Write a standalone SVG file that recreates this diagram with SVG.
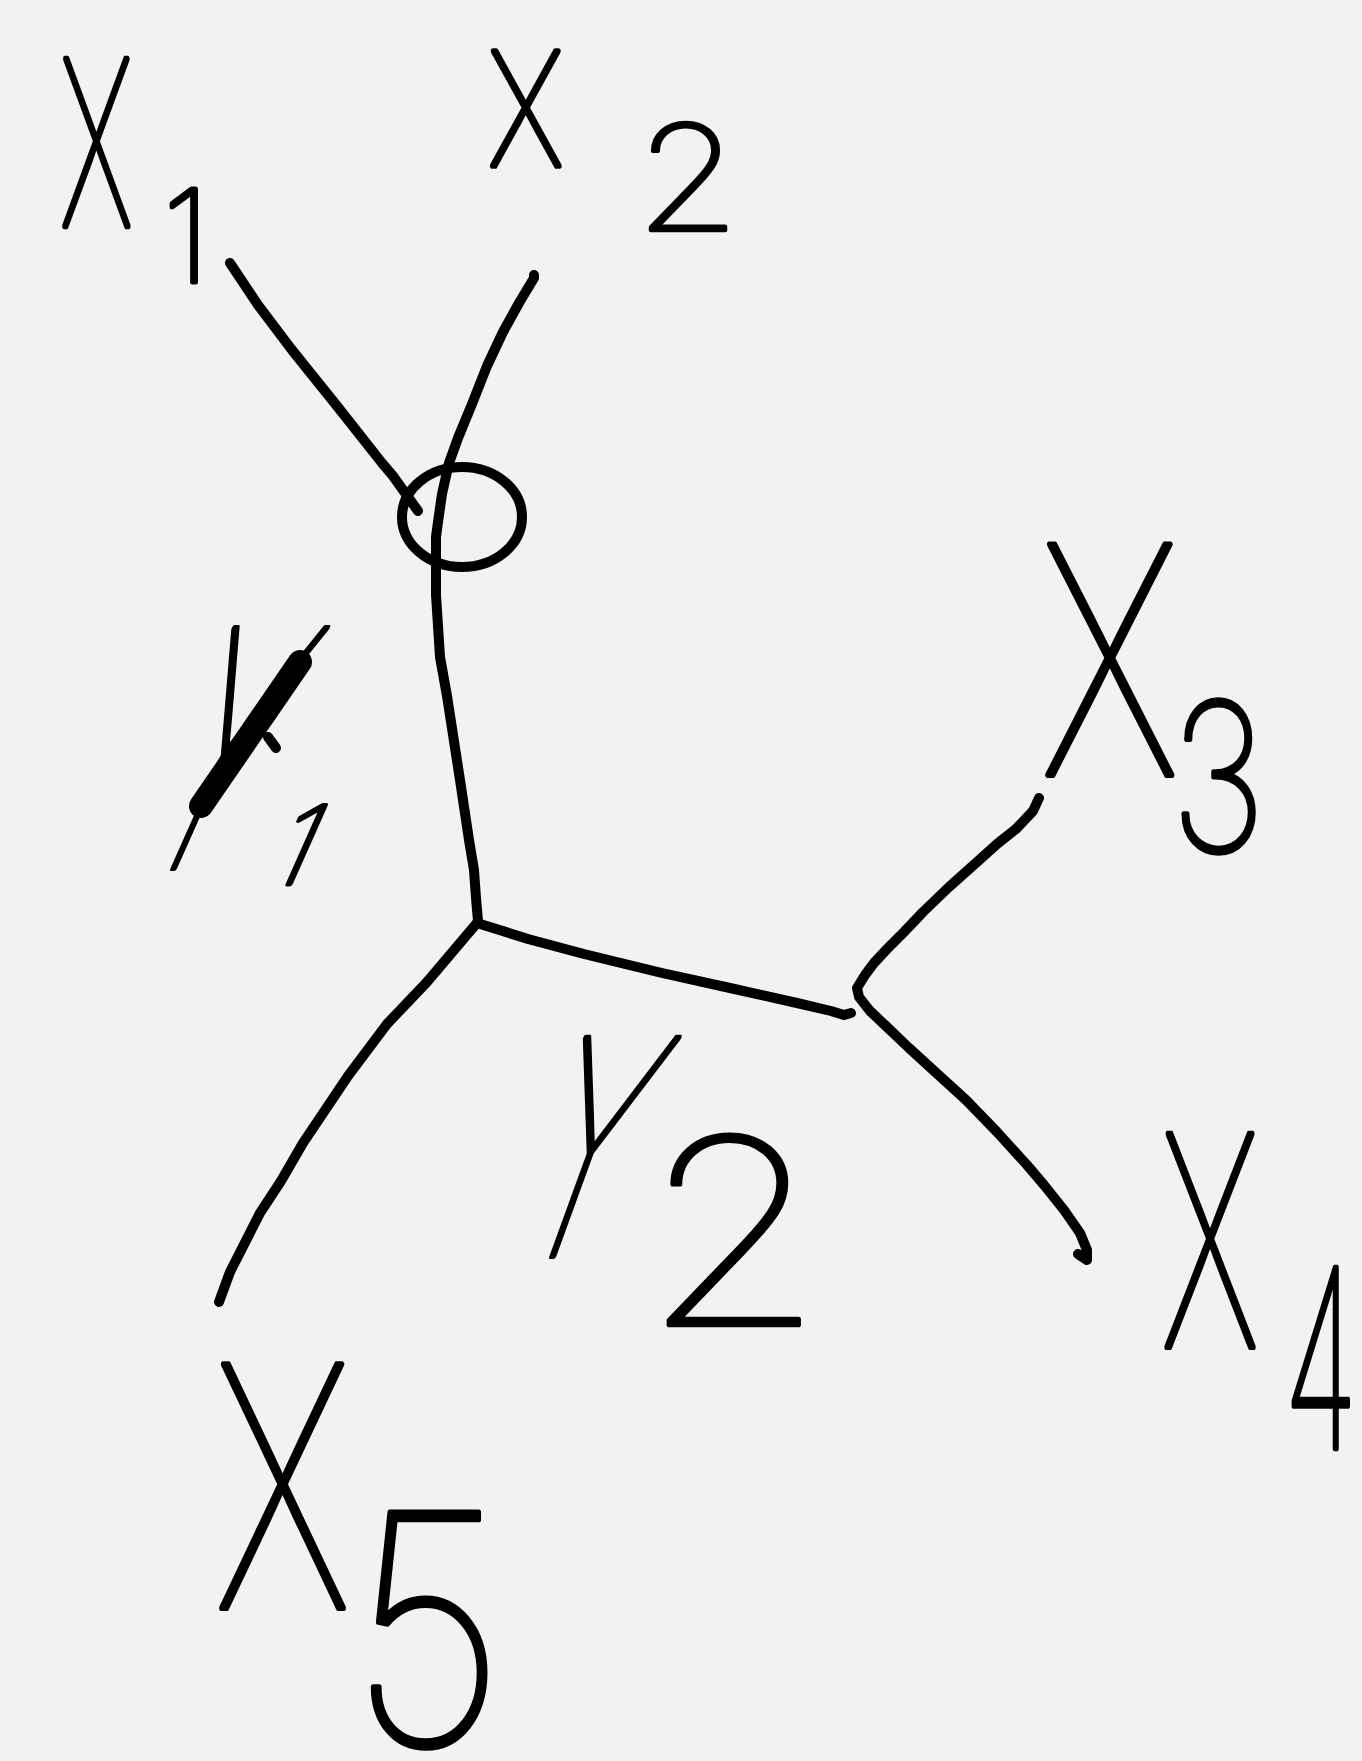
<svg xmlns="http://www.w3.org/2000/svg" width="1362" height="1761" viewBox="0 0 1362 1761">
<style>
.ln{fill:none;stroke:#000;stroke-width:10;stroke-linecap:round;stroke-linejoin:round}
.t{font-family:Inter,Lato,Roboto,"DejaVu Sans",sans-serif;font-weight:100;fill:#000;stroke:#000;stroke-width:5;stroke-linejoin:round;stroke-linecap:round;vector-effect:non-scaling-stroke}
</style>
<rect width="1362" height="1761" fill="#f2f2f2"/>
<g id="connectors">
<path class="ln" d="M230,263 L258,305 L292,350 L337,406 L382,463 L393,476 L418,511"/>
<path class="ln" d="M534,275 L534,278 L519,303 L503,332 L487,366 L472,404 L458,438 L449,463 L442,494 L438,522 L436,537 L436,595 L440,657 L447,696 L460,780 L469,840 L474,870 L476,898 L478,921"/>
<path class="ln" d="M477,923 L460,943 L427,982 L387,1024 L348,1076 L303,1143 L281,1181 L260,1213 L230,1272 L219,1302"/>
<path class="ln" d="M477,923 L528,939 L584,954 L662,973 L730,988 L797,1003 L831,1011 L844,1015 L851,1013"/>
<path class="ln" d="M1039,798 L1033,811 L1016,829 L997,844 L977,862 L949,887 L923,912 L904,932 L887,949 L874,963 L865,975 L857,988 L859,997 L870,1011 L887,1027 L909,1048 L932,1069 L966,1100 L997,1132 L1027,1165 L1044,1185 L1064,1210 L1080,1233 L1087,1250 L1087,1260 L1078,1254"/>
</g>
<g id="vertex-circle">
<ellipse class="ln" cx="462" cy="517" rx="60" ry="50"/>
</g>
<g id="X1"><text class="t" transform="translate(60,226) scale(0.51,1)" font-size="230">X</text><text class="t" transform="translate(163,282)" font-size="128">1</text></g>
<g id="X2"><text class="t" transform="translate(636,230) scale(1.15,1)" font-size="145">2</text><text class="t" transform="translate(488,166) scale(0.77,1)" font-size="158">X</text></g>
<g id="X3"><text class="t" transform="translate(1040,775) scale(0.71,1)" font-size="317">X</text><text class="t" transform="translate(1171,851) scale(0.79,1)" font-size="205">3</text></g>
<g id="X4"><text class="t" transform="translate(1161,1347) scale(0.54,1)" font-size="293">X</text><text class="t" transform="translate(1284,1448) scale(0.5,1)" font-size="247">4</text></g>
<g id="X5"><text class="t" transform="translate(214,1608) scale(0.66,1)" font-size="335">X</text><text class="t" transform="translate(350,1745) scale(0.86,1)" font-size="320">5</text></g>
<g id="Y1"><text class="t" transform="translate(121,868) skewX(-24) scale(0.5,1)" font-size="330">Y</text><path class="ln" style="stroke-width:24" d="M300,662 L201,806"/><path class="ln" d="M268,737 L276,748"/><text class="t" transform="translate(263,884) skewX(-24)" font-size="108">1</text></g>
<g id="Y2"><text class="t" transform="translate(500,1256) skewX(-20) scale(0.55,1)" font-size="300">Y</text><text class="t" transform="translate(642,1325) scale(1.14,1)" font-size="258">2</text></g>
</svg>
